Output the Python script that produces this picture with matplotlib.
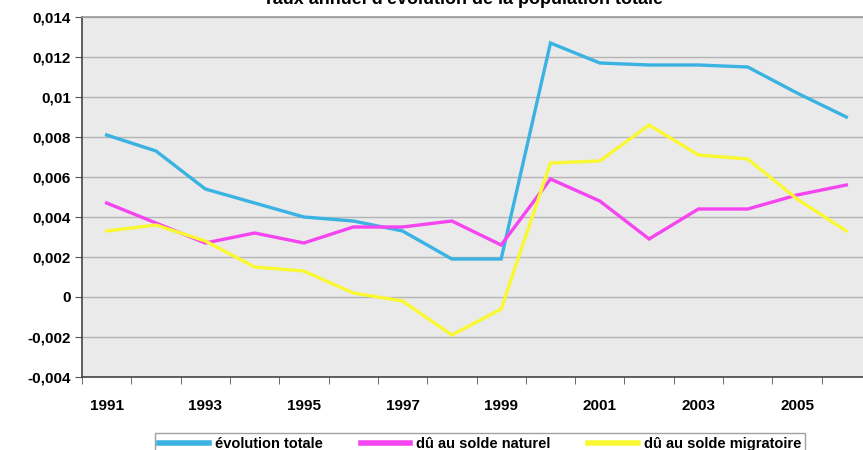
import matplotlib
matplotlib.use("Agg")
import matplotlib.pyplot as plt
from matplotlib.ticker import FixedLocator, FuncFormatter

years = list(range(1991, 2007))
evolution_totale = [0.0081, 0.0073, 0.0054, 0.0047, 0.0040, 0.0038, 0.0033, 0.0019,
                    0.0019, 0.0127, 0.0117, 0.0116, 0.0116, 0.0115, 0.0102, 0.0090]
solde_naturel = [0.0047, 0.0037, 0.0027, 0.0032, 0.0027, 0.0035, 0.0035, 0.0038,
                 0.0026, 0.0059, 0.0048, 0.0029, 0.0044, 0.0044, 0.0051, 0.0056]
solde_migratoire = [0.0033, 0.0036, 0.0028, 0.0015, 0.0013, 0.0002, -0.0002, -0.0019,
                    -0.0006, 0.0067, 0.0068, 0.0086, 0.0071, 0.0069, 0.0049, 0.0033]
labels = ["évolution totale", "dû au solde naturel", "dû au solde migratoire"]
colors = ["#3AB2E2", "#F545F0", "#FAF832"]

plt.rcParams['font.family'] = ['Liberation Sans', 'DejaVu Sans']

fig = plt.figure(figsize=(8.63, 4.5), dpi=100)
ax = fig.add_axes([82 / 863, 73 / 450, 789 / 863, 360 / 450])
ax.set_facecolor("#EAEAEA")

x = list(range(len(years)))
lines = []
for serie, c, lab in zip([evolution_totale, solde_naturel, solde_migratoire], colors, labels):
    l, = ax.plot(x, serie, color=c, lw=2.4, label=lab, solid_joinstyle='miter', zorder=3)
    lines.append(l)

ax.set_xlim(-0.5, len(years) - 0.5)
ax.set_ylim(-0.004, 0.014)
yt = [-0.004 + 0.002 * i for i in range(10)]
ax.set_yticks(yt)
ax.yaxis.set_major_formatter(FuncFormatter(
    lambda v, p: "0" if abs(v) < 1e-9 else ("%g" % round(v, 3)).replace(".", ",")))
ax.grid(axis='y', color="#B4B4B4", lw=1.0, zorder=1)

ax.xaxis.set_major_locator(FixedLocator(x[::2]))
ax.set_xticklabels([str(y) for y in years[::2]])
ax.xaxis.set_minor_locator(FixedLocator([i - 0.5 for i in range(len(years) + 1)]))
ax.tick_params(axis='x', which='major', length=0, pad=16)
ax.tick_params(axis='x', which='minor', length=5, color="#555555", direction='out')
ax.tick_params(axis='y', length=5, color="#555555", direction='out', pad=3)
for t in ax.get_xticklabels() + ax.get_yticklabels():
    t.set_fontsize(11)
    t.set_fontweight('bold')

ax.spines['left'].set_color("#444444")
ax.spines['bottom'].set_color("#444444")
ax.spines['top'].set_color("#999999")
ax.spines['right'].set_visible(False)
for s in ax.spines.values():
    s.set_linewidth(1.2)

fig.text(463 / 863, 1 + 1 / 450, "Taux annuel d'évolution de la population totale",
         ha='center', va='center', fontsize=13, fontweight='bold')

leg = fig.legend(handles=lines, loc='upper left', bbox_to_anchor=(155 / 863, 1 - 433 / 450),
                 borderaxespad=0, ncol=3, frameon=True, fancybox=False, edgecolor="#888888",
                 handlelength=3.4, columnspacing=2.6, handletextpad=0.4,
                 borderpad=0.3, prop={'size': 10.5, 'weight': 'bold'})
for lh in leg.get_lines():
    lh.set_linewidth(4)

fig.savefig("out.png", dpi=100)
